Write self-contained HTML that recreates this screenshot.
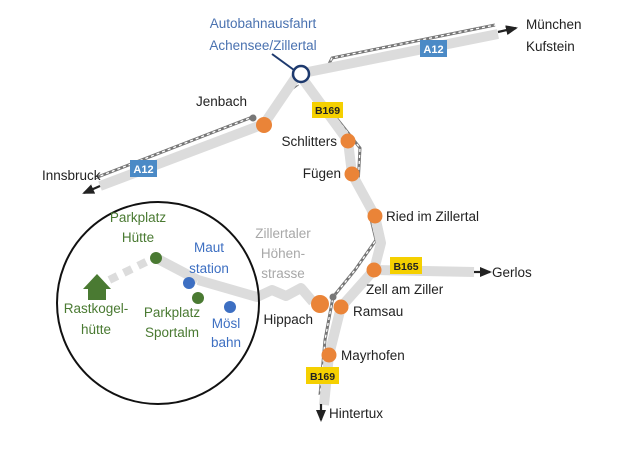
<!DOCTYPE html>
<html><head><meta charset="utf-8"><style>
html,body{margin:0;padding:0;background:#fff;}
svg{display:block;}
text{font-family:"Liberation Sans Narrow","Liberation Sans",sans-serif;font-size:13.5px;}
</style></head><body>
<svg width="625" height="452" viewBox="0 0 625 452" xmlns="http://www.w3.org/2000/svg">
<defs>
<marker id="ar" markerWidth="12" markerHeight="10" refX="10" refY="5" orient="auto" markerUnits="userSpaceOnUse"><path d="M0,0 L12,5 L0,10 z" fill="#222"/></marker>
</defs>
<g fill="none" stroke-linejoin="round" stroke-linecap="butt">
<g stroke="#777" stroke-width="3">
<path d="M95,178 L255,116 M282,96 L298,84 M328,66 L332,58 L495,25 M306,85 L330,110 L360,148 L358,185 L370,215 L376,240 L355,270 L333,297 L325,340 L320,395"/>
</g>
<g stroke="#fff" stroke-width="1.3" stroke-dasharray="3 3">
<path d="M95,178 L255,116 M282,96 L298,84 M328,66 L332,58 L495,25 M306,85 L330,110 L360,148 L358,185 L370,215 L376,240 L355,270 L333,297 L325,340 L320,395"/>
</g>
<g stroke="#dcdcdc" stroke-width="10">
<path d="M100,186 L264,124 L298,74 L498,34"/>
<path d="M302,78 L348,141 L352,174 L375,216 L381,243 L374,270 L341,307 L329,355 L324,405"/>
<path d="M374,270 L474,272"/>
<path d="M198,280 L257,297 L272,290 L286,296 L301,288 L313,302"/>
<path d="M156,258 L198,280"/>
</g>
<path d="M95,287 L152,259" stroke="#dcdcdc" stroke-width="8" stroke-dasharray="9 7"/>
<g stroke="#222" stroke-width="2.2">
<path d="M498,32 L516,28" marker-end="url(#ar)"/>
<path d="M100,186 L84,193" marker-end="url(#ar)"/>
<path d="M474,272 L490,272" marker-end="url(#ar)"/>
<path d="M321,404 L321,420" marker-end="url(#ar)"/>
</g>
<circle cx="158" cy="303" r="101" stroke="#111" stroke-width="2"/>
<path d="M272,54 L294,70" stroke="#1e3a6e" stroke-width="2"/>
<circle cx="301" cy="74" r="8" stroke="#1e3a6e" stroke-width="2.5" fill="#fff"/>
</g>
<g fill="#ea8438">
<circle cx="264" cy="125" r="8"/><circle cx="348" cy="141" r="7.5"/><circle cx="352" cy="174" r="7.5"/>
<circle cx="375" cy="216" r="7.5"/><circle cx="374" cy="270" r="7.5"/><circle cx="320" cy="304" r="9"/>
<circle cx="341" cy="307" r="7.5"/><circle cx="329" cy="355" r="7.5"/>
</g>
<circle cx="253" cy="118" r="3.5" fill="#777"/><circle cx="333" cy="297" r="3.5" fill="#777"/>
<circle cx="156" cy="258" r="6" fill="#4a7a32"/><circle cx="198" cy="298" r="6" fill="#4a7a32"/>
<circle cx="189" cy="283" r="6" fill="#3d6fc2"/><circle cx="230" cy="307" r="6" fill="#3d6fc2"/>
<path d="M83,289 L97,274 L111,289 L106,289 L106,300 L88,300 L88,289 Z" fill="#4a7a32"/>
<rect x="130" y="160" width="27" height="17" fill="#4b8ac6"/><text x="143.5" y="173" fill="#fff" font-weight="bold" text-anchor="middle" style="font-size:11px">A12</text>
<rect x="420" y="40" width="27" height="17" fill="#4b8ac6"/><text x="433.5" y="53" fill="#fff" font-weight="bold" text-anchor="middle" style="font-size:11px">A12</text>
<rect x="312" y="102" width="31" height="16" fill="#f5d000"/><text x="327.5" y="114" fill="#222" font-weight="bold" text-anchor="middle" style="font-size:10.5px">B169</text>
<rect x="306" y="367" width="33" height="17" fill="#f5d000"/><text x="322.5" y="380" fill="#222" font-weight="bold" text-anchor="middle" style="font-size:10.5px">B169</text>
<rect x="390" y="257" width="32" height="17" fill="#f5d000"/><text x="406" y="270" fill="#222" font-weight="bold" text-anchor="middle" style="font-size:10.5px">B165</text>
<g fill="#4a72b0" text-anchor="middle"><text x="263" y="28">Autobahnausfahrt</text><text x="263" y="50">Achensee/Zillertal</text></g>
<g fill="#222">
<text x="526" y="29">München</text><text x="526" y="51">Kufstein</text>
<text x="196" y="106">Jenbach</text>
<text x="337" y="146" text-anchor="end">Schlitters</text>
<text x="341" y="178" text-anchor="end">Fügen</text>
<text x="386" y="221">Ried im Zillertal</text>
<text x="366" y="294">Zell am Ziller</text>
<text x="492" y="277">Gerlos</text>
<text x="353" y="316">Ramsau</text>
<text x="313" y="324" text-anchor="end">Hippach</text>
<text x="341" y="360">Mayrhofen</text>
<text x="329" y="418">Hintertux</text>
<text x="42" y="180">Innsbruck</text>
</g>
<g fill="#a8a8a8" text-anchor="middle"><text x="283" y="238">Zillertaler</text><text x="283" y="258">Höhen-</text><text x="283" y="278">strasse</text></g>
<g fill="#4a7a32" text-anchor="middle">
<text x="138" y="222">Parkplatz</text><text x="138" y="242">Hütte</text>
<text x="96" y="313">Rastkogel-</text><text x="96" y="334">hütte</text>
<text x="172" y="317">Parkplatz</text><text x="172" y="337">Sportalm</text>
</g>
<g fill="#3d6fc2" text-anchor="middle">
<text x="209" y="252">Maut</text><text x="209" y="273">station</text>
<text x="226" y="328">Mösl</text><text x="226" y="347">bahn</text>
</g>
</svg>
</body></html>
